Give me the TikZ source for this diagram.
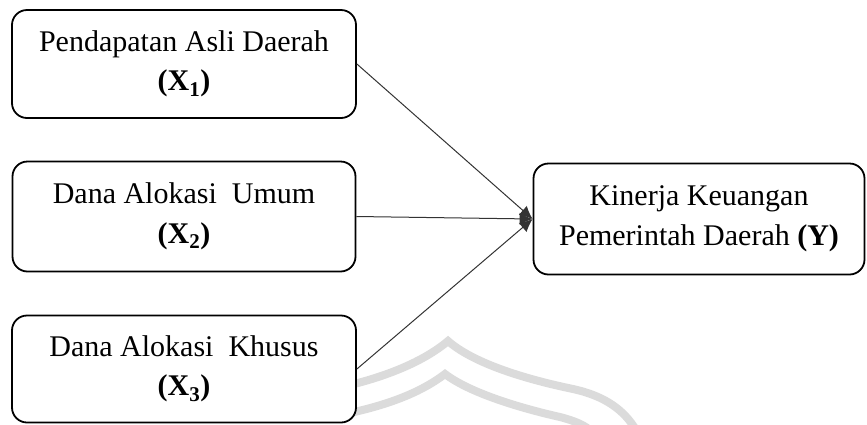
\documentclass[tikz,border=0pt]{standalone}
\usepackage{fontspec}
\setmainfont{Liberation Serif}
\usetikzlibrary{arrows.meta}
\tikzset{
  var/.style={draw=black, line width=1.8pt, rounded corners=15pt, fill=white,
    align=center, inner sep=0pt, font=\fontsize{30}{39.5}\selectfont},
  link/.style={draw=black!80, line width=1pt, -{Latex[length=13pt,width=12pt]}},
  wm/.style={draw=gray!28, line width=8pt}
}
\begin{document}
\begin{tikzpicture}[x=1pt,y=-1pt]
\useasboundingbox (0,0) rectangle (867,424);
\begin{scope}
\clip (0,0) rectangle (867,424);
\draw[wm] (350,385) .. controls (395,374) and (428,358) .. (448,341)
  .. controls (472,362) and (520,378) .. (573,389)
  .. controls (605,396) and (624,410) .. (636,430);
\draw[wm] (350,413) .. controls (395,403) and (424,390) .. (445,374)
  .. controls (470,393) and (520,408) .. (560,417)
  .. controls (575,421) and (585,425) .. (592,432);
\end{scope}
\node[var, minimum width=344pt, minimum height=108pt] (x1) at (184,64)
  {Pendapatan Asli Daerah\\\textbf{(X\textsubscript{1})}};
\node[var, minimum width=343pt, minimum height=110pt] (x2) at (184,216.5)
  {Dana Alokasi\ \ Umum\\\textbf{(X\textsubscript{2})}};
\node[var, minimum width=344pt, minimum height=107pt] (x3) at (184,369)
  {Dana Alokasi\ \ Khusus\\\textbf{(X\textsubscript{3})}};
\node[var, minimum width=331pt, minimum height=111pt] (y) at (699,219)
  {Kinerja Keuangan\\Pemerintah Daerah \textbf{(Y)}};
\draw[link] (x1.east) -- (y.west);
\draw[link] (x2.east) -- (y.west);
\draw[link] (x3.east) -- (y.west);
\end{tikzpicture}
\end{document}
